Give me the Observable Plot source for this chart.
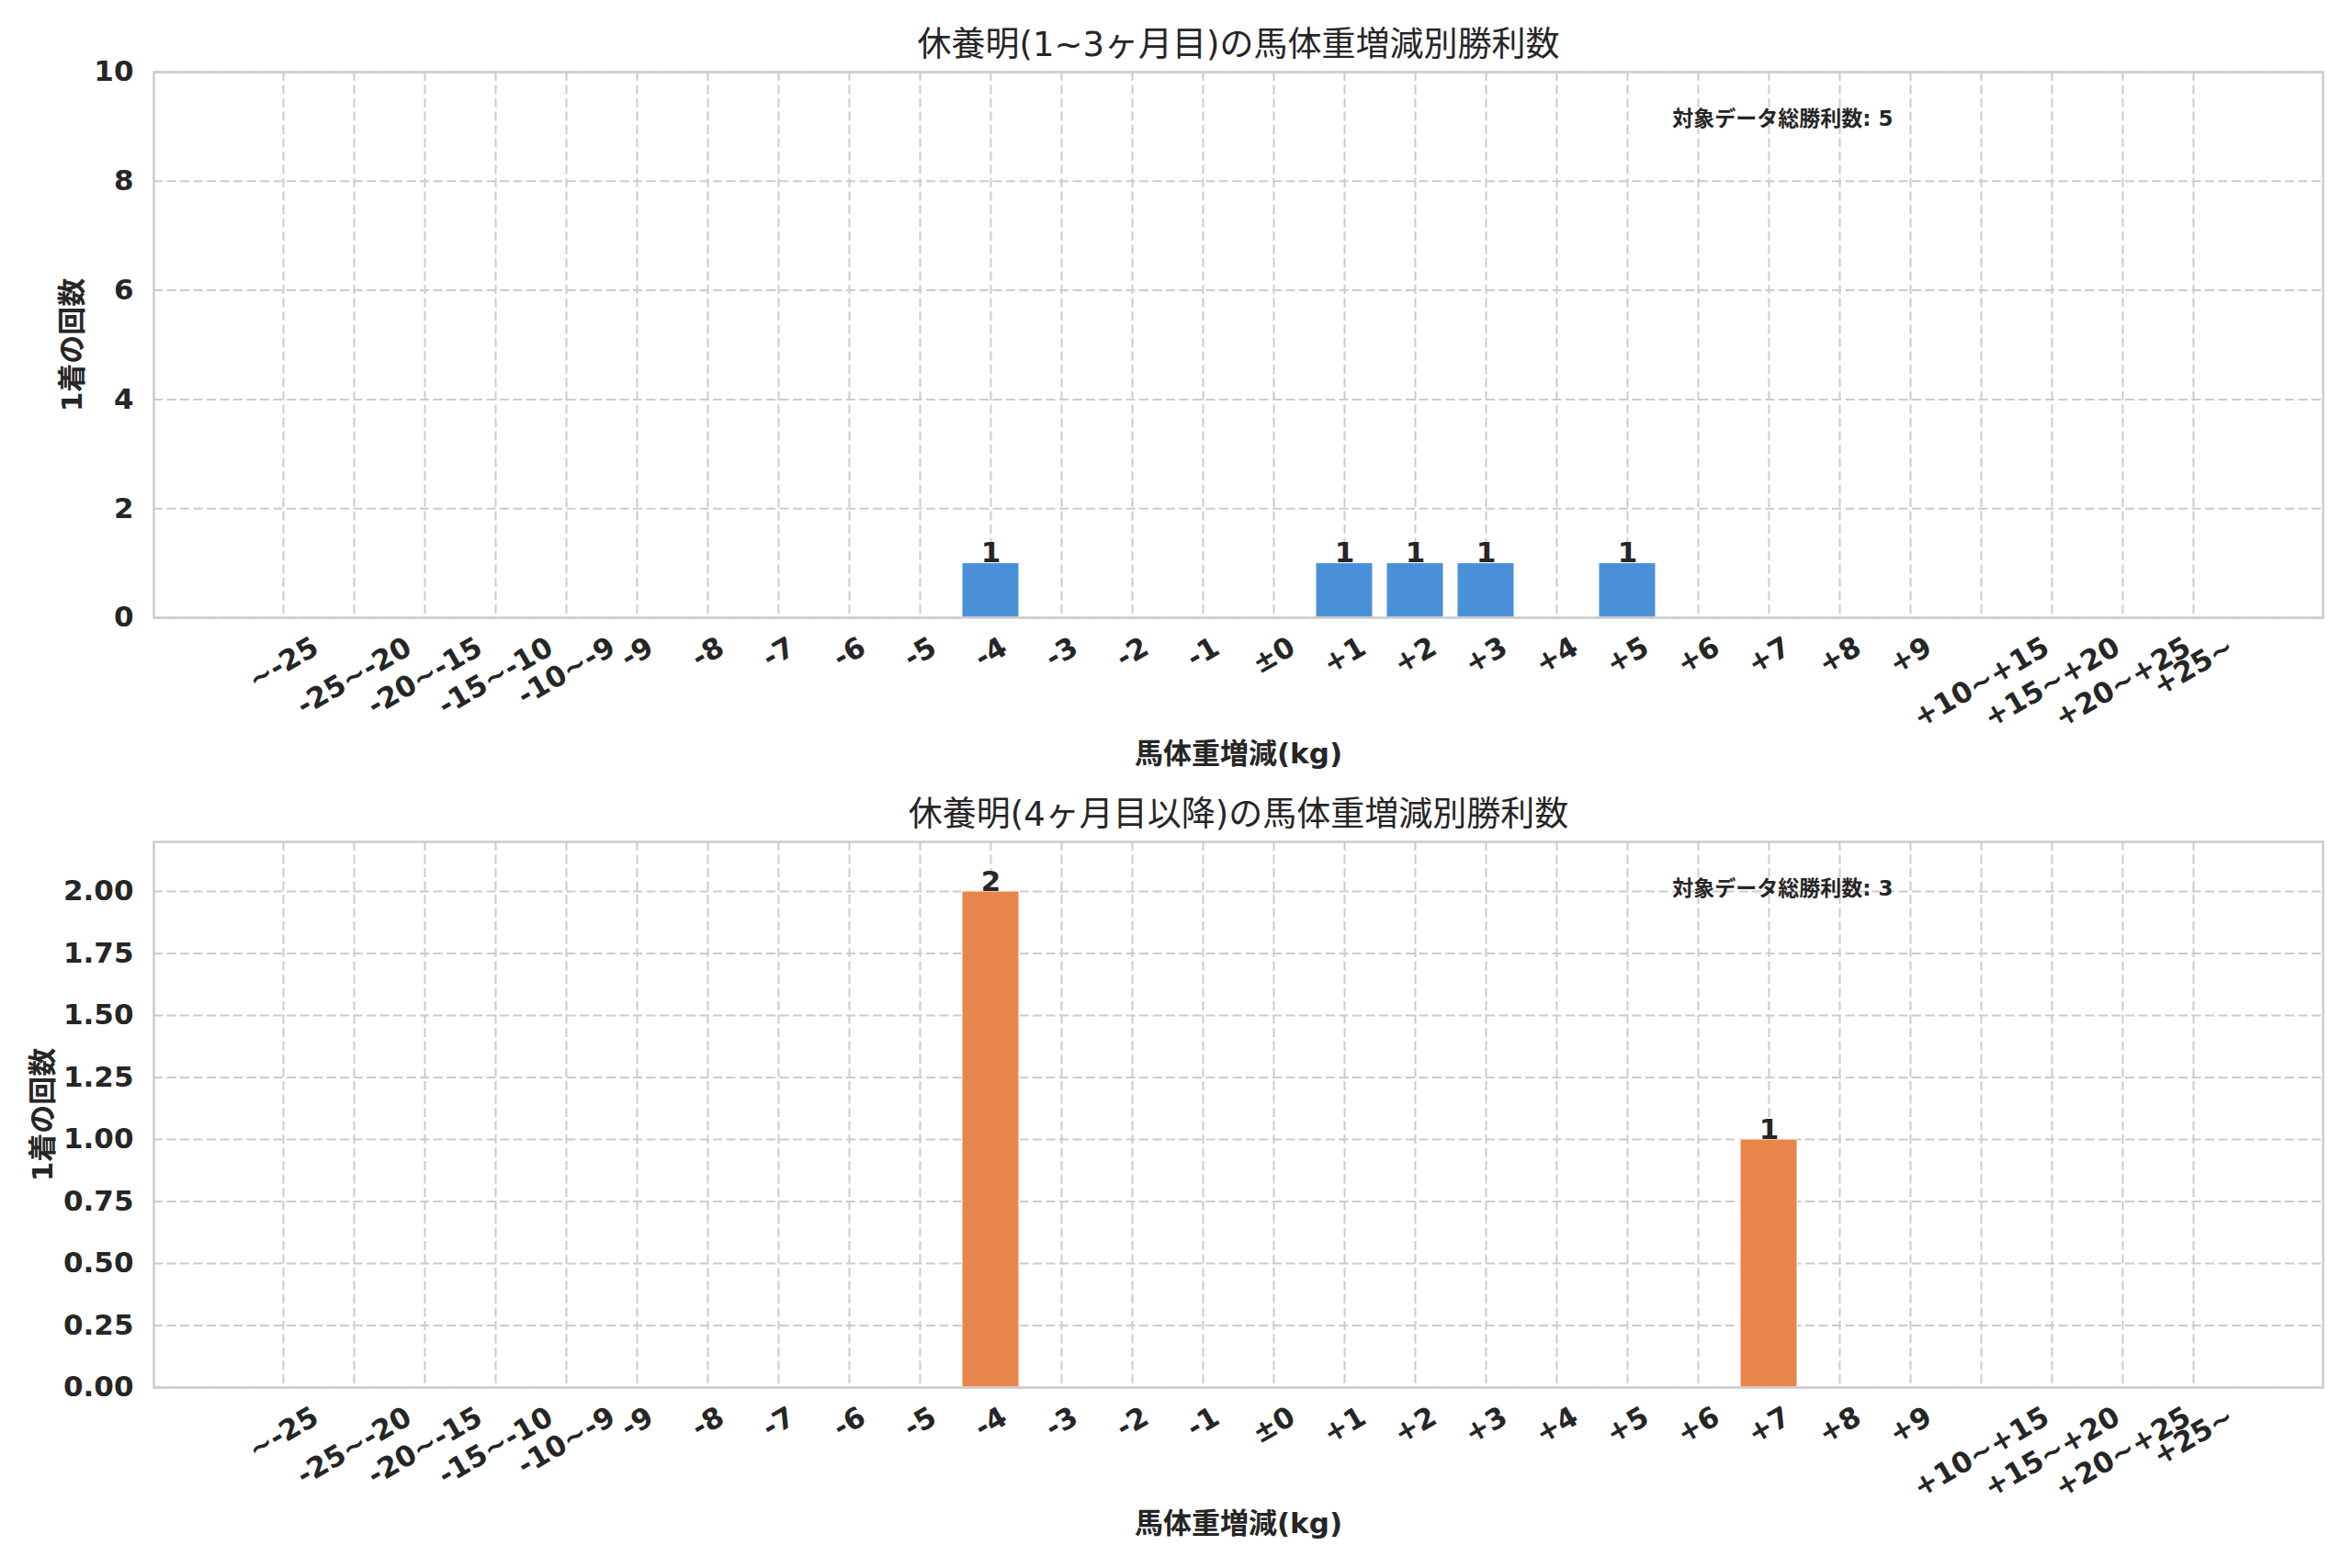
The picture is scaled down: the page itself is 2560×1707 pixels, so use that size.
<!DOCTYPE html>
<html><head><meta charset="utf-8">
<script src="https://cdn.jsdelivr.net/npm/d3@7"></script>
<script src="https://cdn.jsdelivr.net/npm/@observablehq/plot@0.6"></script>
<style>
html,body{margin:0;padding:0;background:#fff;}
#chart{width:2560px;}
#chart svg{display:block;}
</style></head><body><div id="chart"></div>
<script>
// ---- data ----
const categories = ["~-25","-25~-20","-20~-15","-15~-10","-10~-9","-9","-8","-7","-6","-5","-4","-3","-2","-1","±0",
  "+1","+2","+3","+4","+5","+6","+7","+8","+9","+10~+15","+15~+20","+20~+25","+25~"];
const counts1 = [0,0,0,0,0,0,0,0,0,0,1,0,0,0,0,1,1,1,0,1,0,0,0,0,0,0,0,0];
const counts2 = [0,0,0,0,0,0,0,0,0,0,2,0,0,0,0,0,0,0,0,0,0,1,0,0,0,0,0,0];
const yTicks1 = [0,2,4,6,8,10];
const yTicks2 = [0,0.25,0.5,0.75,1,1.25,1.5,1.75,2];
const yDomain1 = [0,10];
const yDomain2 = [0,2.2];
const titles = ["休養明(1~3ヶ月目)の馬体重増減別勝利数", "休養明(4ヶ月目以降)の馬体重増減別勝利数"];
const xLabel = "馬体重増減(kg)";
const yLabel = "1着の回数";
const noteLabel = "対象データ総勝利数";
const colors = ["#4a90d9", "#e8854a"];

// ---- layout ----
const FONT = "'DejaVu Sans', 'Noto Sans CJK JP', sans-serif";
const INK = "#262626";
const GRID = "#cccccc";
const ctx = document.createElement("canvas").getContext("2d");
ctx.font = "bold 31px 'DejaVu Sans'";
const tw = s => ctx.measureText(s).width;

function panel(title, counts, yTicks, yDomain, fmt, color, ylabDx, height, mTop, mBottom) {
  const W = 2560, mL = 167, mR = 32;
  const frameW = W - mL - mR;
  const data = categories.map((c, j) => ({cat: c, n: counts[j]}));
  const bars = data.filter(d => d.n > 0);
  const total = d3.sum(counts);
  const txt = {fontFamily: FONT, fill: INK};
  const tickMarks = categories.map(c => Plot.text([c], {
    x: d => d, text: d => d, frameAnchor: "bottom", dy: 29.5 + 0.25 * tw(c),
    rotate: -30, textAnchor: "middle", lineAnchor: "middle",
    fontSize: 31, fontWeight: "bold", ...txt
  }));
  return Plot.plot({
    width: W, height, marginLeft: mL, marginRight: mR, marginTop: mTop, marginBottom: mBottom,
    style: {background: "#fff"},
    x: {type: "band", domain: categories, paddingInner: 0.2, paddingOuter: 1.39, align: 0.5, axis: null},
    y: {domain: yDomain, axis: null},
    marks: [
      Plot.ruleX(categories, {x: d => d, stroke: GRID, strokeWidth: 2, strokeDasharray: "10,4.5"}),
      Plot.ruleY(yTicks, {y: d => d, stroke: GRID, strokeWidth: 2, strokeDasharray: "10,4.5"}),
      Plot.barY(bars, {x: "cat", y: "n", fill: color, stroke: "#ffffff", strokeWidth: 1}),
      Plot.frame({stroke: GRID, strokeWidth: 2.5}),
      Plot.text(bars, {x: "cat", y: "n", text: d => String(d.n), lineAnchor: "bottom", dy: -1,
        fontSize: 31, fontWeight: "bold", ...txt}),
      Plot.text(yTicks, {y: d => d, text: fmt, frameAnchor: "left", dx: -22, textAnchor: "end",
        lineAnchor: "middle", fontSize: 31, fontWeight: "bold", ...txt}),
      ...tickMarks,
      Plot.text([xLabel], {frameAnchor: "bottom", dy: 149, text: d => d, lineAnchor: "middle",
        fontSize: 31, fontWeight: "bold", ...txt}),
      Plot.text([yLabel], {frameAnchor: "left", dx: ylabDx, text: d => d, rotate: -90,
        textAnchor: "middle", lineAnchor: "middle", fontSize: 31, fontWeight: "bold", ...txt}),
      Plot.text([title], {frameAnchor: "top", dy: -29, text: d => d, lineAnchor: "middle",
        fontSize: 37, fontWeight: "normal", ...txt}),
      Plot.text([`${noteLabel}: ${total}`], {frameAnchor: "top-left", dx: 0.7 * frameW, dy: 51,
        text: d => d, textAnchor: "start", lineAnchor: "middle", fontSize: 23, fontWeight: "bold", ...txt})
    ]
  });
}

const el = document.getElementById("chart");
el.appendChild(panel(titles[0], counts1, yTicks1, yDomain1, d => d3.format("d")(d), colors[0], -88, 853, 78, 181));
el.appendChild(panel(titles[1], counts2, yTicks2, yDomain2, d => d3.format(".2f")(d), colors[1], -120, 854, 63, 197));
</script></body></html>
